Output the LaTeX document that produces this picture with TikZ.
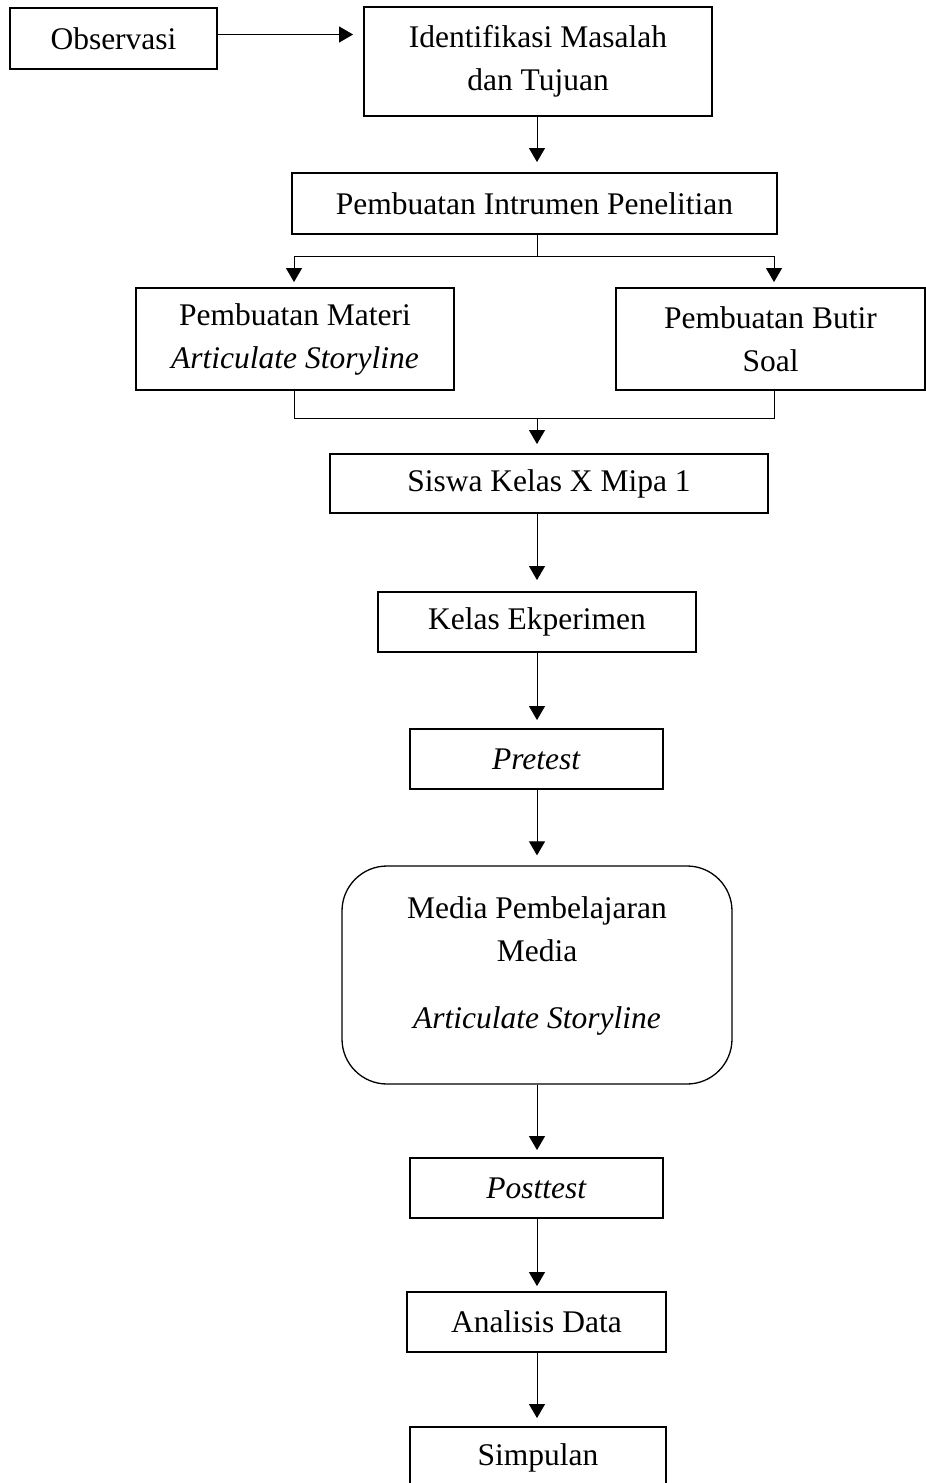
\documentclass[tikz,border=0pt]{standalone}
\usepackage{fontspec}
\setmainfont{Liberation Serif}
\usetikzlibrary{arrows.meta}
\begin{document}
\begin{tikzpicture}[x=1pt,y=-1pt,
  lbl/.style={align=center,font=\fontsize{31.5}{43}\selectfont},
  box/.style={lbl,draw,line width=1.9pt,inner sep=0pt},
  rbox/.style={draw,line width=1.3pt,rounded corners=45pt,inner sep=0pt},
  conn/.style={line width=1pt},
  arr/.style={line width=1pt,-{Triangle[width=16pt,length=14pt]}}]
\useasboundingbox (0,0) rectangle (926,1483);
\node[box,minimum width=207pt,minimum height=61pt] (obs) at (113.5,38.5) {Observasi};
\node[box,minimum width=348pt,minimum height=109pt] (idm) at (538,61.5) {Identifikasi Masalah\\dan Tujuan};
\node[box,minimum width=485pt,minimum height=61pt] (pi) at (534.5,203.5) {Pembuatan Intrumen Penelitian};
\node[box,minimum width=318pt,minimum height=102pt] (mat) at (295,339) {Pembuatan Materi\\\textit{Articulate Storyline}};
\node[box,minimum width=309pt,minimum height=102pt] (butir) at (770.5,339) {Pembuatan Butir\\Soal};
\node[box,minimum width=438pt,minimum height=59pt] (siswa) at (549,483.5) {Siswa Kelas X Mipa 1};
\node[box,minimum width=318pt,minimum height=60pt] (kelas) at (537,622) {Kelas Ekperimen};
\node[box,minimum width=253pt,minimum height=60pt] (pre) at (536.5,759) {\textit{Pretest}};
\node[rbox,minimum width=390pt,minimum height=218pt] (media) at (537,975) {};
\node[lbl] (mediatxt) at (537,966) {Media Pembelajaran\\Media\\[24pt]\textit{Articulate Storyline}};
\node[box,minimum width=253pt,minimum height=60pt] (post) at (536.5,1188) {\textit{Posttest}};
\node[box,minimum width=259pt,minimum height=60pt] (ana) at (536.5,1322) {Analisis Data};
\node[box,minimum width=256pt,minimum height=62pt] (simp) at (538,1458) {Simpulan};

\coordinate (col) at (537,0);
\coordinate (brL) at (294,256);
\coordinate (brR) at (774,256);
\coordinate (mgL) at (294,418);
\coordinate (mgR) at (774,418);

\draw[arr,shorten >=10pt] ([yshift=4pt]obs.east) -- ([yshift=4pt]obs.east -| idm.west);
\draw[arr,shorten >=10pt] (idm.south -| col) -- (pi.north -| col);
\draw[conn] (pi.south -| col) -- (col |- brL);
\draw[conn] (brL) -- (brR);
\draw[arr,shorten >=5pt] (brL) -- (brL |- mat.north);
\draw[arr,shorten >=5pt] (brR) -- (brR |- butir.north);
\draw[conn] (mgL |- mat.south) -- (mgL) -- (mgR) -- (mgR |- butir.south);
\draw[arr,shorten >=9pt] (col |- mgL) -- (col |- siswa.north);
\draw[arr,shorten >=11pt] (col |- siswa.south) -- (col |- kelas.north);
\draw[arr,shorten >=8pt] (col |- kelas.south) -- (col |- pre.north);
\draw[arr,shorten >=10pt] (col |- pre.south) -- (col |- media.north);
\draw[arr,shorten >=7pt] (col |- media.south) -- (col |- post.north);
\draw[arr,shorten >=5pt] (col |- post.south) -- (col |- ana.north);
\draw[arr,shorten >=8pt] (col |- ana.south) -- (col |- simp.north);
\end{tikzpicture}
\end{document}
